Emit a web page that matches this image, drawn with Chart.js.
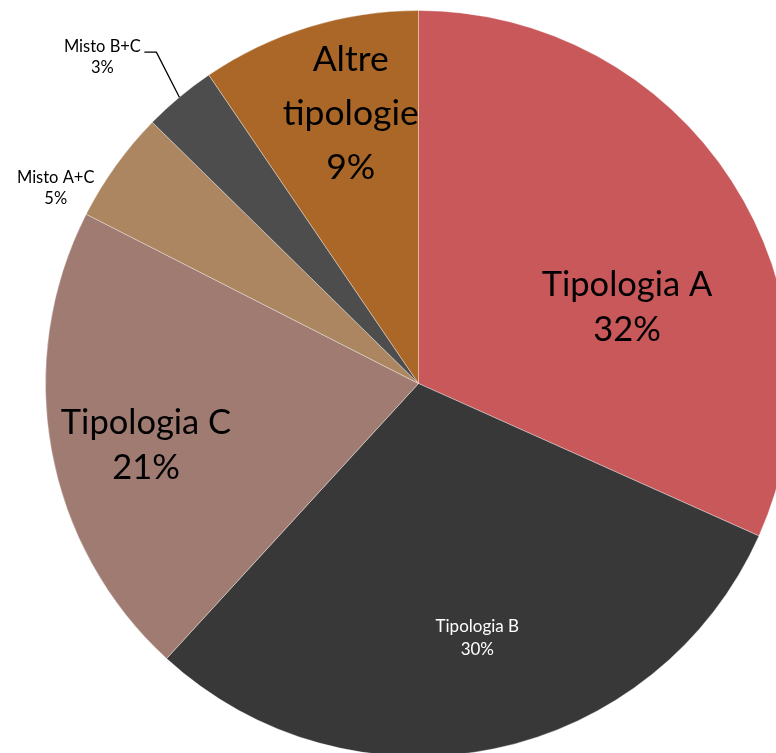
<!DOCTYPE html>
<html>
<head>
<meta charset="utf-8">
<script src="https://cdn.jsdelivr.net/npm/chart.js@4.4.1/dist/chart.umd.min.js"></script>
<style>
  html, body { margin: 0; padding: 0; background: #fff; overflow: hidden; }
  #wrap { position: absolute; left: 0; top: 0; width: 837px; height: 760px; }
</style>
</head>
<body>
<div id="wrap"><canvas id="chart-pie"></canvas></div>
<script>
// slice data (clockwise from 12 o'clock)
const categories = ["Tipologia A", "Tipologia B", "Tipologia C", "Misto A+C", "Misto B+C", "Altre tipologie"];
const shares = [31.7, 30.1, 20.7, 4.85, 3.15, 9.5];
const pctLabels = ["32%", "30%", "21%", "5%", "3%", "9%"];

const sliceColors = ["#C9585A", "#383838", "#A07B72", "#AB8661", "#4D4D4D", "#AB6727"];
const FONT = "Lato, 'Open Sans', sans-serif";

// label placement: offsets from slice centroid ("center") or outer edge midpoint ("outer")
const labelStyles = [
  { anchor: "center", dx: 52, dy: 25, size: 34.5, color: "#000", lh: 45 },
  { anchor: "center", dx: 21, dy: 72, size: 17, color: "#fff", lh: 23 },
  { anchor: "center", dx: -89, dy: 29, size: 34.5, color: "#000", lh: 45 },
  { anchor: "outer", dx: -60, dy: 22, size: 16.5, color: "#000", lh: 21 },
  { anchor: "outer", dx: -77, dy: -40, size: 16.5, color: "#000", lh: 21, leader: [[-23, -45], [-35, -45]] },
  { anchor: "center", dx: -13, dy: -92, size: 35.5, color: "#000", lh: 54, wrap: true },
];

const sliceLabels = {
  id: "sliceLabels",
  afterDatasetsDraw(chart) {
    const { ctx } = chart;
    const meta = chart.getDatasetMeta(0);
    meta.data.forEach((arc, i) => {
      const st = labelStyles[i];
      const p = arc.getProps(["x", "y", "startAngle", "endAngle", "outerRadius"], true);
      const mid = (p.startAngle + p.endAngle) / 2;
      let ax, ay;
      if (st.anchor === "outer") {
        ax = p.x + Math.cos(mid) * p.outerRadius;
        ay = p.y + Math.sin(mid) * p.outerRadius;
      } else {
        const c = arc.getCenterPoint(true);
        ax = c.x;
        ay = c.y;
      }
      ctx.save();
      if (st.leader) {
        ctx.strokeStyle = "#000";
        ctx.lineWidth = 1.3;
        ctx.beginPath();
        ctx.moveTo(ax, ay);
        st.leader.forEach(([lx, ly]) => ctx.lineTo(ax + lx, ay + ly));
        ctx.stroke();
      }
      const name = categories[i];
      const lines = (st.wrap ? name.split(" ") : [name]).concat(pctLabels[i]);
      ctx.font = `${st.size}px ${FONT}`;
      ctx.fillStyle = st.color;
      ctx.textAlign = "center";
      ctx.textBaseline = "middle";
      const cx = ax + st.dx;
      const cy = ay + st.dy;
      lines.forEach((line, k) => {
        ctx.fillText(line, cx, cy + (k - (lines.length - 1) / 2) * st.lh);
      });
      ctx.restore();
    });
  },
};

new Chart(document.getElementById("chart-pie"), {
  type: "pie",
  data: {
    labels: categories,
    datasets: [
      {
        data: shares,
        backgroundColor: sliceColors,
        borderColor: "rgba(255,255,255,0.35)",
        borderWidth: 1,
      },
    ],
  },
  options: {
    responsive: true,
    maintainAspectRatio: false,
    animation: false,
    events: [],
    layout: { padding: { top: 10, bottom: 3, left: 0, right: 0 } },
    plugins: {
      legend: { display: false },
      tooltip: { enabled: false },
    },
  },
  plugins: [sliceLabels],
});
</script>
</body>
</html>
